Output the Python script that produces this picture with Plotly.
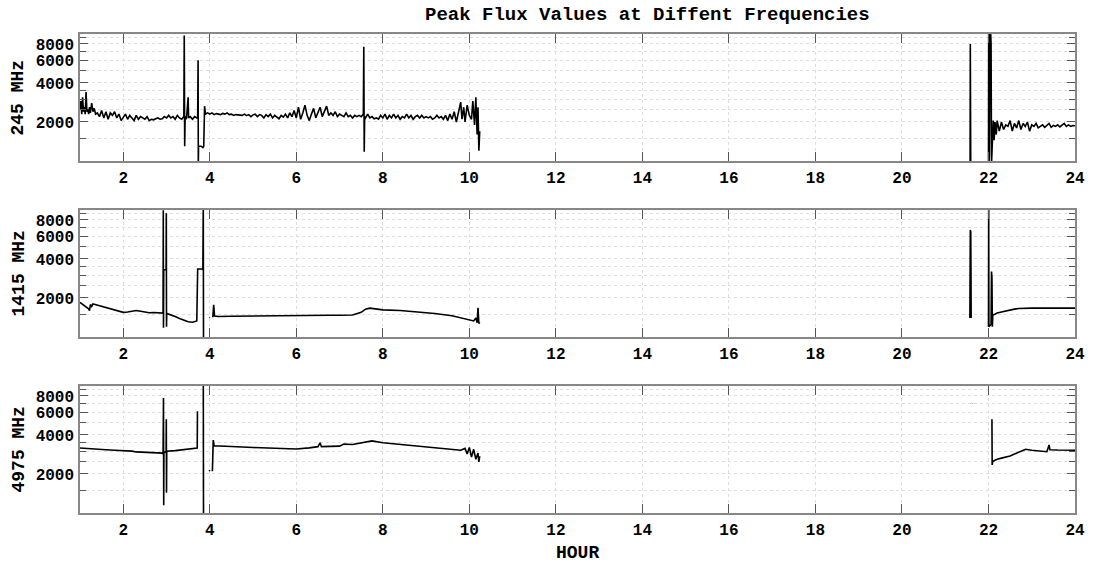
import plotly.graph_objects as go

# ---------------- data ----------------
t245 = [1.00, 1.02, 1.04, 1.06, 1.08, 1.10, 1.12, 1.14, 1.16, 1.18, 1.20, 1.22, 1.24, 1.27, 1.30,
        1.33, 1.36, 1.40, 1.45, 1.50, 1.55, 1.60, 1.65, 1.70, 1.75, 1.80, 1.85, 1.90, 1.95, 2.00,
        2.05, 2.10, 2.15, 2.20, 2.25, 2.30, 2.35, 2.40, 2.45, 2.50, 2.55, 2.60, 2.65, 2.70, 2.75,
        2.80, 2.85, 2.90, 2.95, 3.00, 3.05, 3.10, 3.15, 3.20, 3.25, 3.30, 3.35, 3.40, 3.41, 3.42,
        3.43, 3.46, 3.50, 3.51, 3.55, 3.60, 3.65, 3.70, 3.72, 3.73, 3.735, 3.74, 3.80, 3.84, 3.86,
        3.87, 3.88, 3.90, 3.95, 4.00, 4.05, 4.10, 4.15, 4.20, 4.25, 4.30, 4.35, 4.40, 4.45, 4.50,
        4.55, 4.60, 4.65, 4.70, 4.75, 4.80, 4.85, 4.90, 4.95, 5.00, 5.05, 5.10, 5.15, 5.20, 5.25,
        5.30, 5.35, 5.40, 5.45, 5.50, 5.55, 5.60, 5.65, 5.70, 5.75, 5.80, 5.85, 5.90, 5.95, 6.00,
        6.05, 6.10, 6.15, 6.20, 6.25, 6.30, 6.35, 6.40, 6.45, 6.50, 6.55, 6.60, 6.65, 6.70, 6.75,
        6.80, 6.85, 6.90, 6.95, 7.00, 7.05, 7.10, 7.15, 7.20, 7.25, 7.30, 7.35, 7.40, 7.45, 7.50,
        7.55, 7.56, 7.57, 7.58, 7.60, 7.65, 7.70, 7.75, 7.80, 7.85, 7.90, 7.95, 8.00, 8.05, 8.10,
        8.15, 8.20, 8.25, 8.30, 8.35, 8.40, 8.45, 8.50, 8.55, 8.60, 8.65, 8.70, 8.75, 8.80, 8.85,
        8.90, 8.95, 9.00, 9.05, 9.10, 9.15, 9.20, 9.25, 9.30, 9.35, 9.40, 9.45, 9.50, 9.55, 9.60,
        9.65, 9.70, 9.75, 9.80, 9.83, 9.87, 9.90, 9.95, 10.00, 10.05, 10.08, 10.12, 10.15, 10.18,
        10.20, 10.22, 10.24, 15.0,
        21.575, 21.58, 21.583, 21.586, 21.59, 21.80,
        22.00, 22.005, 22.01, 22.02, 22.04, 22.06, 22.07, 22.09, 22.11, 22.13, 22.15, 22.18, 22.20,
        22.25, 22.30, 22.35, 22.40, 22.45, 22.50, 22.55, 22.60, 22.65, 22.70, 22.75, 22.80, 22.85,
        22.90, 22.95, 23.00, 23.05, 23.10, 23.15, 23.20, 23.25, 23.30, 23.35, 23.40, 23.45, 23.50,
        23.55, 23.60, 23.65, 23.70, 23.75, 23.80, 23.85, 23.90, 23.95, 24.00]
f245 = [2500, 2900, 2300, 3100, 2400, 2600, 2300, 3400, 2400, 2500, 2300, 2600, 2350, 2800, 2400,
        2550, 2300, 2350, 2200, 2450, 2150, 2400, 2100, 2350, 2250, 2400, 2150, 2300, 2050, 2200,
        2300, 2100, 2250, 2150, 2050, 2250, 2100, 2200, 2150, 2100, 2200, 2050, 2100, 2080, 2120,
        2150, 2100, 2120, 2200, 2150, 2250, 2150, 2200, 2100, 2250, 2150, 2100, 2200, 9300, 1300,
        2200, 2100, 3100, 2150, 2200, 2100, 2200, 2150, 2150, 6000, 950, 1300, 1300, 1270, 1300,
        2450, 2650, 2300, 2350, 2300, 2350, 2280, 2320, 2300, 2280, 2330, 2300, 2350, 2280, 2300,
        2250, 2280, 2260, 2270, 2250, 2300, 2240, 2280, 2200, 2270, 2300, 2200, 2280, 2250, 2150,
        2280, 2200, 2300, 2150, 2250, 2200, 2120, 2250, 2180, 2300, 2150, 2350, 2200, 2450, 2150,
        2600, 2100, 2350, 2700, 2250, 2050, 2300, 2550, 2150, 2400, 2600, 2200, 2450, 2650, 2250,
        2350, 2250, 2400, 2200, 2300, 2250, 2200, 2350, 2200, 2250, 2150, 2250, 2200, 2250, 2200,
        2300, 7600, 1180, 2200, 2150, 2300, 2150, 2200, 2120, 2150, 2100, 2250, 2150, 2300, 2100,
        2250, 2150, 2300, 2150, 2250, 2100, 2200, 2150, 2300, 2150, 2250, 2100, 2200, 2250, 2150,
        2250, 2150, 2200, 2150, 2200, 2100, 2150, 2250, 2150, 2200, 2100, 2250, 2050, 2300, 2100,
        2400, 2000, 2450, 2850, 2100, 2600, 2000, 2700, 2250, 2100, 2900, 1900, 3100, 1600,
        2600, 1200, 1700, None,
        950, 8000, 4000, 7800, 950, None,
        950, 12000, 950, 1100, 12000, 8000, 950, 1400, 2050, 1450, 2000, 1600, 2050,
        1700, 2000, 1750, 1900, 1850, 2050, 1700, 1950, 1800, 2050, 1750, 1950, 1850,
        2000, 1700, 1900, 1850, 1950, 1800, 1850, 1900, 1820, 1880, 1950, 1820, 1880,
        1850, 1900, 1830, 1880, 1950, 1850, 1900, 1850, 1880, 1870]

t1415 = [1.00, 1.05, 1.10, 1.15, 1.20, 1.22, 1.24, 1.27, 1.30, 1.35, 1.40, 1.50, 1.60, 1.70, 1.80,
         1.90, 2.00, 2.10, 2.20, 2.30, 2.40, 2.50, 2.60, 2.70, 2.80, 2.88, 2.92, 2.925, 2.93, 2.935,
         2.99, 2.995, 3.00, 3.005, 3.10, 3.20, 3.30, 3.40, 3.50, 3.60, 3.65, 3.70, 3.72, 3.82, 3.84,
         3.85, 3.855, 3.90, 3.99, 4.00, 4.03, 4.07, 4.09, 4.11, 4.20, 4.50, 4.75, 5.00, 5.25, 5.50,
         5.75, 6.00, 6.25, 6.50, 6.75, 7.00, 7.30, 7.50, 7.60, 7.70, 7.80, 8.00, 8.40, 8.80, 9.20,
         9.60, 9.80, 10.00, 10.10, 10.15, 10.18, 10.20, 10.22, 10.24, 15.0,
         21.57, 21.58, 21.585, 21.59, 21.595, 21.60, 21.80,
         22.00, 22.005, 22.01, 22.06, 22.07, 22.08, 22.09, 22.10, 22.15, 22.20, 22.30, 22.40, 22.50,
         22.60, 22.70, 22.80, 23.00, 23.50, 24.00]
f1415 = [1850, 1800, 1750, 1720, 1650, 1600, 1780, 1720, 1800, 1780, 1760, 1720, 1680, 1640, 1600,
         1570, 1550, 1560, 1590, 1600, 1580, 1550, 1540, 1545, 1540, 1550, 1530, 9500, 1180, 3300,
         3300, 9000, 1200, 1520, 1490, 1440, 1390, 1340, 1310, 1300, 1310, 1330, 3350, 3350, 3300,
         11000, 900, None, 1410, 1420, None, 1420, 1770, 1450, 1440, 1445, 1450, 1450, 1455, 1455,
         1460, 1460, 1465, 1465, 1470, 1470, 1480, 1550, 1640, 1670, 1650, 1620, 1600, 1560, 1520,
         1460, 1410, 1370, 1330, 1400, 1290, 1680, 1270, 1300, None,
         1400, 6700, 3500, 6500, 3400, 1400, None,
         1200, 11000, 1200, 1250, 3200, 2900, 1200, 1480, 1500, 1530, 1560, 1590, 1620,
         1640, 1660, 1665, 1670, 1670, 1670]

t4975 = [1.00, 1.20, 1.40, 1.60, 1.80, 2.00, 2.20, 2.30, 2.50, 2.70, 2.80, 2.90, 2.92, 2.93, 2.935,
         2.94, 2.99, 2.995, 3.00, 3.005, 3.20, 3.40, 3.60, 3.70, 3.71, 3.715, 3.80,
         3.85, 3.855, 3.90, 3.99, 4.00, 4.03, 4.06, 4.08, 4.10, 4.20, 4.50, 5.00, 5.50, 6.00, 6.30,
         6.50, 6.55, 6.58, 7.00, 7.10, 7.30, 7.60, 7.75, 8.00, 8.40, 8.80, 9.20, 9.60, 9.80, 9.90,
         9.95, 10.00, 10.05, 10.10, 10.15, 10.20, 10.22, 10.24, 15.0,
         21.62, 21.625, 21.80,
         22.08, 22.085, 22.10, 22.15, 22.20, 22.30, 22.40, 22.50, 22.60, 22.70, 22.80, 22.86, 23.00,
         23.20, 23.35, 23.40, 23.42, 23.60, 24.00]
f4975 = [3170, 3150, 3110, 3080, 3050, 3030, 3000, 2960, 2930, 2920, 2880, 2900, 2850, 7700, 1150,
         2950, 2950, 5300, 1430, 3000, 3030, 3080, 3130, 3170, 3170, 6100, None,
         11000, 900, None, 2100, 2150, None, 2100, 3650, 3300, 3280, 3260, 3200, 3150, 3120, 3180,
         3250, 3480, 3250, 3280, 3400, 3380, 3500, 3600, 3480, 3370, 3300, 3200, 3100, 3050, 3150,
         2850, 3200, 2700, 3100, 2600, 2900, 2480, 2750, None,
         7000, 7050, None,
         5300, 2350, 2500, 2550, 2600, 2650, 2700, 2750, 2850, 2950, 3050, 3100, 3050,
         3000, 2970, 3350, 3080, 3060, 3050]

panel_names = ["245 MHz", "1415 MHz", "4975 MHz"]
x_ticks = [2, 4, 6, 8, 10, 12, 14, 16, 18, 20, 22, 24]
y_ticks = [2000, 4000, 6000, 8000]
y_ticktext = ["2000", "4000", "6000", "8000"]
y_minor = [1500, 2500, 3000, 3500, 5000, 7000, 9000]
title_text = "Peak Flux Values at Diffent Frequencies"
x_title = "HOUR"

# ---------------- layout helpers ----------------
W, H = 1099, 564
ML, MR = 80, 24
PW = W - ML - MR
panels_px = [(34, 161), (210, 337), (386, 513)]  # top, bottom in pixels

FONT = "Liberation Mono, Courier New, monospace"
GRID = "#dedede"

def ypaper(py):
    return 1 - py / H

def xpaper(px):
    return (px - ML) / PW

fig = go.Figure()
series = [(t245, f245), (t1415, f1415), (t4975, f4975)]
for i, (t, f) in enumerate(series):
    sfx = "" if i == 0 else str(i + 1)
    fig.add_trace(go.Scatter(x=t, y=f, mode="lines", xaxis="x" + sfx, yaxis="y" + sfx,
                             line=dict(color="black", width=1.6), connectgaps=False,
                             showlegend=False, hoverinfo="skip"))

layout = dict(width=W, height=H, margin=dict(l=ML, r=MR, t=0, b=0),
              paper_bgcolor="white", plot_bgcolor="white", showlegend=False,
              font=dict(family=FONT, color="black"))

for i, (top, bot) in enumerate(panels_px):
    sfx = "" if i == 0 else str(i + 1)
    layout["xaxis" + sfx] = dict(
        domain=[0, 1], anchor="y" + sfx, range=[1, 24],
        tickvals=x_ticks, ticktext=[str(v) for v in x_ticks],
        ticks="inside", ticklen=9, tickwidth=1.2, tickcolor="#555555",
        showline=True, linecolor="#888888", linewidth=1.5, mirror="ticks",
        showgrid=True, gridcolor=GRID, griddash="dot", gridwidth=1,
        zeroline=False, ticklabelstandoff=1,
        tickfont=dict(family=FONT, size=16, color="black", weight="bold"))
    layout["yaxis" + sfx] = dict(
        domain=[ypaper(bot), ypaper(top)], anchor="x" + sfx, type="log",
        range=[3, 3.98], tickvals=y_ticks, ticktext=y_ticktext,
        ticks="inside", ticklen=8, tickwidth=1.2, tickcolor="#555555",
        minor=dict(tickvals=y_minor, ticks="inside", ticklen=6, tickcolor="#555555",
                   showgrid=True, gridcolor=GRID, griddash="dot", gridwidth=1),
        showline=True, linecolor="#888888", linewidth=1.5, mirror="ticks",
        showgrid=True, gridcolor=GRID, griddash="dot", gridwidth=1,
        zeroline=False, ticklabelstandoff=1,
        tickfont=dict(family=FONT, size=16, color="black", weight="bold"))

annotations = [dict(text="<b>" + title_text + "</b>", x=xpaper(647), y=ypaper(15),
                    xref="paper", yref="paper", showarrow=False, xanchor="center",
                    yanchor="middle", font=dict(family=FONT, size=19, color="black")),
               dict(text="<b>" + x_title + "</b>", x=xpaper(577), y=ypaper(553),
                    xref="paper", yref="paper", showarrow=False, xanchor="center",
                    yanchor="middle", font=dict(family=FONT, size=18, color="black"))]
for i, (top, bot) in enumerate(panels_px):
    annotations.append(dict(text="<b>" + panel_names[i] + "</b>", x=xpaper(18),
                            y=ypaper((top + bot) / 2), xref="paper", yref="paper",
                            showarrow=False, textangle=-90, xanchor="center", yanchor="middle",
                            font=dict(family=FONT, size=18, color="black")))
layout["annotations"] = annotations

fig.update_layout(**layout)
fig.write_html("out.html")
